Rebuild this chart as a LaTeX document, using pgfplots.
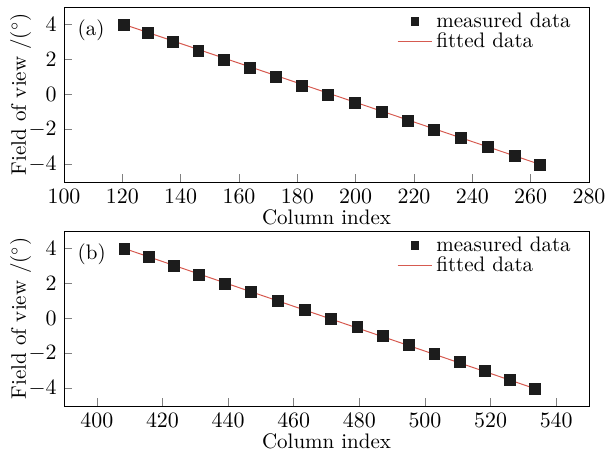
\documentclass[border=0pt]{standalone}
\usepackage{pgfplots}
\pgfplotsset{compat=1.18}
\definecolor{fitred}{RGB}{214,90,80}
\definecolor{markblk}{RGB}{28,28,28}

\pgfplotsset{
  panel/.style={
    scale only axis, width=262.5pt, height=87.5pt,
    ymin=-5, ymax=5, ytick={-4,-2,0,2,4},
    tick align=inside, xtick pos=bottom, ytick pos=left,
    major tick length=4pt,
    xlabel={Column index}, ylabel={Field of view /($^{\circ}$)},
    xlabel style={yshift=4pt}, ylabel style={yshift=-8.5pt},
    legend style={draw=none, fill=none, at={(rel axis cs:0.985,1.015)},
      anchor=north east, row sep=-3pt},
    legend cell align=left,
  },
  meas/.style={only marks, mark=square*, mark size=2.7pt, markblk,
    legend image post style={mark size=1.9pt}},
  fit/.style={fitred, line width=0.5pt, no marks},
}

\begin{document}
\fontsize{10.5}{12.5}\selectfont
\begin{tikzpicture}
\begin{axis}[panel, xmin=100, xmax=280, xtick={100,120,...,280}]
  \addplot[meas] coordinates {
    (120.6,4.0) (128.9,3.5) (137.3,3.0) (146.1,2.5) (154.9,2.0) (163.8,1.5)
    (172.6,1.0) (181.5,0.5) (190.6,0.0) (199.6,-0.5) (208.9,-1.0) (217.8,-1.5)
    (226.9,-2.0) (236.2,-2.5) (245.4,-3.0) (254.5,-3.5) (263.3,-4.0)};
  \addplot[fit] coordinates {(120.6,4.0) (263.3,-4.0)};
  \legend{measured data, fitted data}
  \node[anchor=west] at (rel axis cs:0.012,0.87) {(a)};
\end{axis}
\begin{axis}[panel, at={(0pt,-112pt)}, xmin=390, xmax=550, xtick={400,420,...,540}]
  \addplot[meas] coordinates {
    (408.4,4.0) (415.8,3.5) (423.4,3.0) (431.0,2.5) (439.0,2.0) (447.0,1.5)
    (455.2,1.0) (463.3,0.5) (471.4,0.0) (479.4,-0.5) (487.3,-1.0) (495.1,-1.5)
    (502.9,-2.0) (510.7,-2.5) (518.3,-3.0) (525.9,-3.5) (533.4,-4.0)};
  \addplot[fit] coordinates {(408.4,4.0) (533.4,-4.0)};
  \legend{measured data, fitted data}
  \node[anchor=west] at (rel axis cs:0.012,0.87) {(b)};
\end{axis}
\pgfresetboundingbox
\path[use as bounding box] (-32pt,-137pt) rectangle (273pt,91pt);
\end{tikzpicture}
\end{document}
